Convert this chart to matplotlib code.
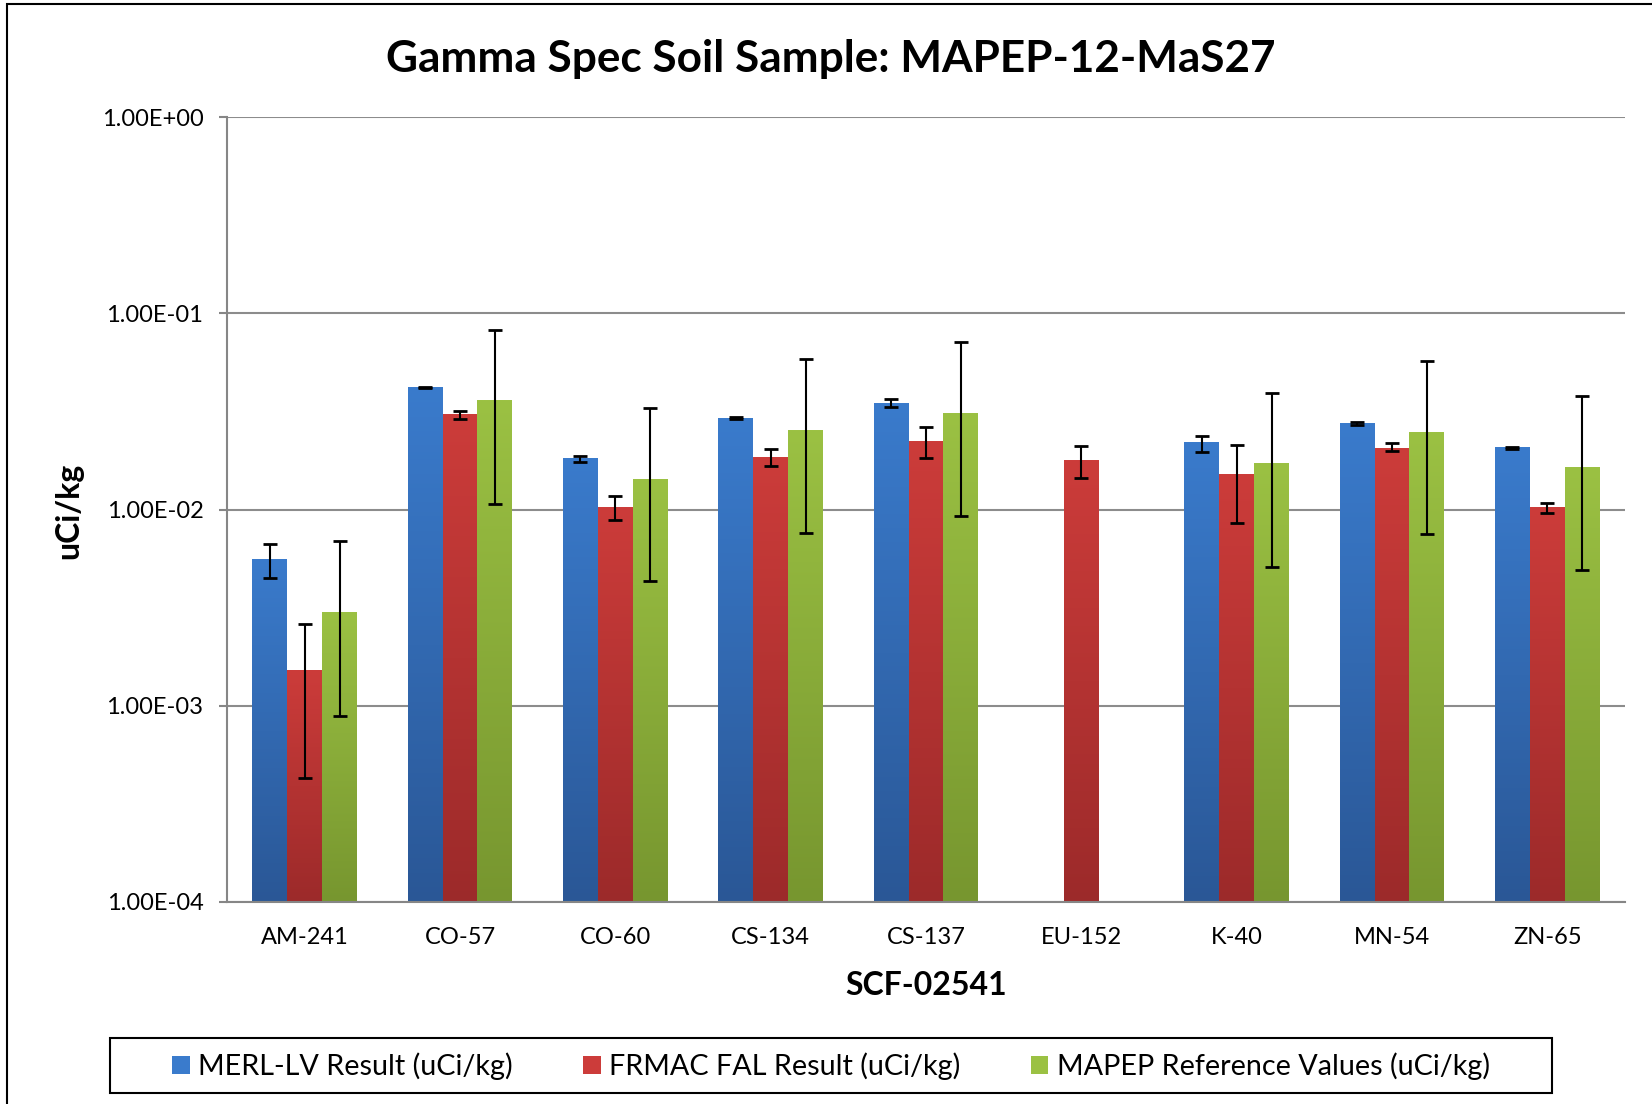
import numpy as np
import matplotlib.pyplot as plt
from matplotlib.colors import LinearSegmentedColormap
from matplotlib.patches import Rectangle
from matplotlib.ticker import FuncFormatter, FixedLocator, NullLocator

plt.rcParams['font.family'] = ['Lato', 'DejaVu Sans']

nan = np.nan
isotopes = ['AM-241', 'CO-57', 'CO-60', 'CS-134', 'CS-137', 'EU-152', 'K-40', 'MN-54', 'ZN-65']

# values (uCi/kg), with lower/upper ends of the error bars
merl = [0.00554, 0.0418, 0.0181, 0.0290, 0.0346, nan, 0.0219, 0.0274, 0.0206]
merl_lo = [0.00446, 0.0414, 0.0175, 0.0288, 0.0331, nan, 0.0196, 0.0270, 0.0204]
merl_hi = [0.00665, 0.0420, 0.0188, 0.0297, 0.0367, nan, 0.0236, 0.0278, 0.0208]

frmac = [0.00151, 0.0304, 0.0102, 0.0185, 0.0222, 0.0177, 0.0151, 0.0205, 0.0102]
frmac_lo = [0.000426, 0.0288, 0.0088, 0.0166, 0.0184, 0.0144, 0.0085, 0.0198, 0.0096]
frmac_hi = [0.00262, 0.0316, 0.0117, 0.0204, 0.0263, 0.0210, 0.0214, 0.0217, 0.0108]

mapep = [0.00298, 0.0358, 0.0143, 0.0252, 0.0308, nan, 0.0172, 0.0246, 0.0164]
mapep_lo = [0.000886, 0.0107, 0.0043, 0.0076, 0.0093, nan, 0.0051, 0.0075, 0.0049]
mapep_hi = [0.00687, 0.0821, 0.0330, 0.0583, 0.0714, nan, 0.0392, 0.0571, 0.0377]

series = [
    ('MERL-LV Result (uCi/kg)', merl, merl_lo, merl_hi, '#3a7bcc', '#2a5796'),
    ('FRMAC FAL Result (uCi/kg)', frmac, frmac_lo, frmac_hi, '#cc3c3a', '#9c2a2a'),
    ('MAPEP Reference Values (uCi/kg)', mapep, mapep_lo, mapep_hi, '#9bc143', '#77962f'),
]

W, H = 1652, 1104
fig = plt.figure(figsize=(W / 100, H / 100), dpi=100)
ax = fig.add_axes([227 / W, 1 - 902 / H, (1625 - 227) / W, (902 - 117) / H])

ax.set_yscale('log')
ax.set_xlim(-0.5, len(isotopes) - 0.5)
ax.set_ylim(1e-4, 1)
ax.set_autoscale_on(False)

x = np.arange(len(isotopes))
width = 0.225
grad = np.linspace(0, 1, 256).reshape(-1, 1)
handles = []
for i, (label, vals, lo, hi, ctop, cbot) in enumerate(series):
    vals = np.array(vals)
    pos = x + (i - 1) * width
    bars = ax.bar(pos, vals, width, color=ctop, label=label, zorder=2)
    handles.append(bars)
    # vertical gradient on each bar, lighter at the top
    cmap = LinearSegmentedColormap.from_list('g%d' % i, [cbot, ctop])
    to_axes = ax.transAxes.inverted()
    for b in bars:
        h = b.get_height()
        if not np.isfinite(h):
            continue
        x0, y0 = to_axes.transform(ax.transData.transform((b.get_x(), 1e-4)))
        x1, y1 = to_axes.transform(ax.transData.transform((b.get_x() + b.get_width(), h)))
        ax.imshow(grad, cmap=cmap, extent=[x0, x1, y0, y1], origin='lower',
                  aspect='auto', transform=ax.transAxes, zorder=2.1,
                  interpolation='bilinear')
    yerr = [vals - np.array(lo), np.array(hi) - vals]
    ax.errorbar(pos, vals, yerr=yerr, fmt='none', ecolor='black',
                elinewidth=1.5, capsize=5, capthick=2, zorder=3)

ax.set_xlim(-0.5, len(isotopes) - 0.5)
ax.set_ylim(1e-4, 1)

ax.set_xticks(x)
ax.set_xticklabels(isotopes, fontsize=17)
ax.tick_params(axis='x', length=0, pad=18)
ax.yaxis.set_major_locator(FixedLocator([1e-4, 1e-3, 1e-2, 1e-1, 1]))
ax.yaxis.set_minor_locator(NullLocator())
ax.yaxis.set_major_formatter(FuncFormatter(lambda v, p: '%.2E' % v))
ax.tick_params(axis='y', labelsize=17, length=6, width=1.5, color='#868686', pad=11)

ax.grid(axis='y', color='#8c8c8c', linewidth=1.5)
ax.set_axisbelow(True)
for s in ['top', 'right']:
    ax.spines[s].set_visible(False)
for s in ['left', 'bottom']:
    ax.spines[s].set_color('#868686')
    ax.spines[s].set_linewidth(1.5)

ax.set_xlabel('SCF-02541', fontsize=23, fontweight='bold')
ax.xaxis.set_label_coords(0.5, -0.088)
ax.set_ylabel('uCi/kg', fontsize=23, fontweight='bold')
ax.yaxis.set_label_coords(-0.103, 0.498)

fig.text(831 / W, 1 - 59 / H, 'Gamma Spec Soil Sample: MAPEP-12-MaS27',
         ha='center', va='center', fontsize=31.8, fontweight='bold')

fig.legend(handles=handles, loc='center', bbox_to_anchor=(831 / W, 1 - 1066 / H),
           ncol=3, frameon=False, fontsize=20.7, handlelength=0.6, handleheight=0.6,
           handletextpad=0.3, columnspacing=2.45)
fig.add_artist(Rectangle((110 / W, 1 - 1093 / H), 1442 / W, 55 / H,
                         transform=fig.transFigure, fill=False, ec='black', lw=1.5))
fig.add_artist(Rectangle((7 / W, -0.1), 1.2, 1.1 - 4 / H,
                         transform=fig.transFigure, fill=False, ec='black', lw=1.5))

fig.savefig('out.png', dpi=100)
